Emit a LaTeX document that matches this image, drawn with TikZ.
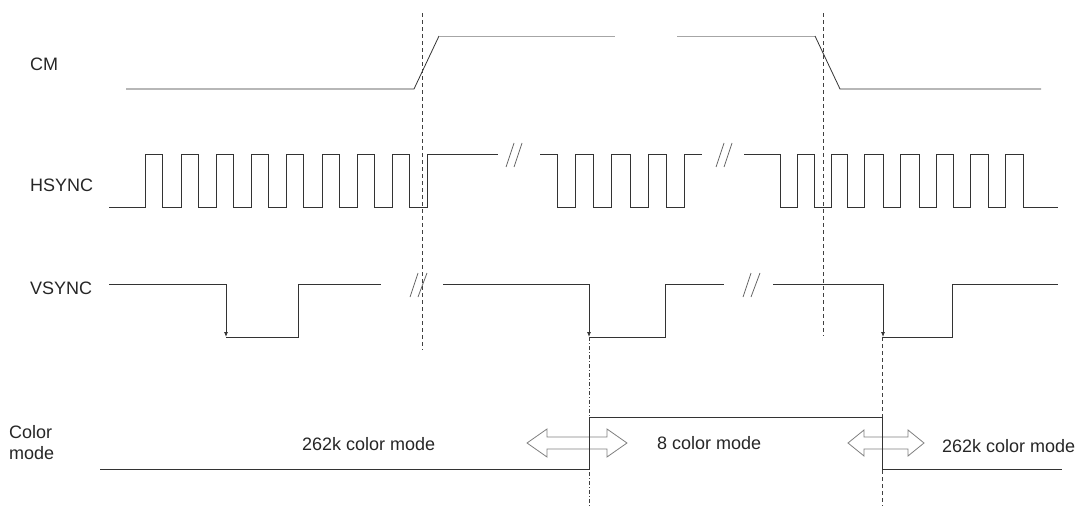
\documentclass[tikz,border=0pt]{standalone}
\usepackage{fontspec}
\setmainfont{Liberation Sans}
\usetikzlibrary{arrows.meta}
\begin{document}
\begin{tikzpicture}[x=1pt,y=-1pt,
  sig/.style={draw=black!80, line width=0.8pt, line join=miter},
  sighi/.style={draw=black!35, line width=1pt},
  brk/.style={draw=black!60, line width=0.8pt},
  guide/.style={draw=black!75, line width=0.8pt, dash pattern=on 4pt off 3pt},
  guidedd/.style={draw=black!75, line width=0.8pt, dash pattern=on 4pt off 2pt on 1pt off 2pt},
  lbl/.style={inner sep=0pt, font=\fontsize{18}{21}\selectfont, text=black!85},
  dbl/.style={draw=black!50, fill=white, line width=0.8pt, line join=miter},
  tip/.style={-{Latex[length=5pt,width=4pt]}}
]
\useasboundingbox (0,0) rectangle (1090,506);

% labels
\node[lbl, anchor=west] (lcm) at (30,64) {CM};
\node[lbl, anchor=west] (lhs) at (30,185) {HSYNC};
\node[lbl, anchor=west] (lvs) at (30,288) {VSYNC};
\node[lbl, anchor=west, align=left] (lcol) at (9,443) {Color\\mode};

% CM
\draw[sig] (126,89) -- (414,89) -- (439,36);
\draw[sighi] (439,36) -- (615,36);
\draw[sighi] (677,36) -- (815,36);
\draw[sig] (815,36) -- (840,89) -- (1041,89);

% HSYNC
\draw[sig] (109,207) foreach \r in {145,181,216,251,286,322,357,392} { -- (\r,207) -- (\r,154) -- (\r+17,154) -- (\r+17,207)} -- (427,207) -- (427,154) -- (498,154);
\draw[sig] (540,154) foreach \f in {557,593,630,666} { -- (\f,154) -- (\f,207) -- (\f+18.5,207) -- (\f+18.5,154)} -- (702,154);
\draw[sig] (744,154) foreach \f in {780,814,847,883,919,953,988} { -- (\f,154) -- (\f,207) -- (\f+17.5,207) -- (\f+17.5,154)} -- (1023,154) -- (1023,207) -- (1058,207);
\draw[brk] (506,167) -- (514,143) (514,167) -- (522,143);
\draw[brk] (716,167) -- (724,143) (724,167) -- (732,143);

% VSYNC
\draw[sig] (109,284) -- (226,284);
\draw[sig,tip] (226,284) -- (226,337);
\draw[sig] (226,337) -- (298,337) -- (298,284) -- (381,284);
\draw[brk] (410,297) -- (418,273) (418,297) -- (427,273);
\draw[sig] (443,284) -- (589,284);
\draw[sig,tip] (589,284) -- (589,337);
\draw[sig] (589,337) -- (665,337) -- (665,284) -- (724,284);
\draw[brk] (743,297) -- (751,273) (751,297) -- (760,273);
\draw[sig] (773,284) -- (883,284);
\draw[sig,tip] (883,284) -- (883,337);
\draw[sig] (883,337) -- (952,337) -- (952,284) -- (1058,284);

% guide lines
\draw[guide] (422,13) -- (422,350);
\draw[guide] (823,13) -- (823,336);
\draw[guidedd] (589,337) -- (589,506);
\draw[guide] (882,337) -- (882,506);

% double arrows
\draw[dbl] (527,443) -- (547,429) -- (547,437) -- (607,437) -- (607,429) -- (627,443)
  -- (607,457) -- (607,449) -- (547,449) -- (547,457) -- cycle;
\draw[dbl] (848,443) -- (864,430) -- (864,437) -- (908,437) -- (908,430) -- (924,443)
  -- (908,456) -- (908,449) -- (864,449) -- (864,456) -- cycle;

% Color mode
\draw[sig] (100,469) -- (589,469) -- (589,417) -- (882,417) -- (882,469) -- (1062,469);

\node[lbl, anchor=west] (m1) at (302,444) {262k color mode};
\node[lbl, anchor=west] (m2) at (657,443) {8 color mode};
\node[lbl, anchor=west] (m3) at (942,446) {262k color mode};
\end{tikzpicture}
\end{document}
